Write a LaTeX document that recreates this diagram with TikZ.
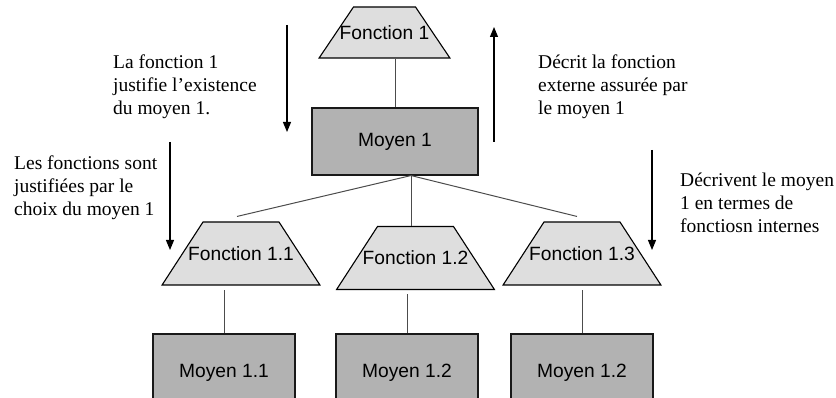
\documentclass[tikz,border=0pt]{standalone}
\usepackage{fontspec}
\setmainfont{Liberation Serif}
\setsansfont{Liberation Sans}
\usetikzlibrary{shapes.geometric,arrows.meta}
\definecolor{fonctgris}{gray}{0.87}
\definecolor{moyengris}{gray}{0.70}
\begin{document}
\begin{tikzpicture}[x=1pt,y=-1pt,font=\sffamily\fontsize{19.2}{22}\selectfont]
\useasboundingbox (0,0) rectangle (836,398);
\clip (0,0) rectangle (836,398);

\tikzstyle{fonction}=[shape=trapezium,trapezium angle=57,fill=fonctgris,draw=black,line width=1.1pt,inner xsep=38pt,inner ysep=31.5pt]
\tikzstyle{moyen}=[rectangle,draw=black!90,line width=1.1pt,fill=moyengris,minimum width=142pt,minimum height=78pt]
\tikzstyle{link}=[draw=black!70,line width=1pt]
\tikzstyle{fleche}=[-{Triangle[length=10pt,width=8pt]},line width=1.1pt]
\tikzstyle{note}=[font=\rmfamily\fontsize{19.5}{22.8}\selectfont,align=left,anchor=north west,inner sep=0pt]

    \node(f)[fonction,trapezium angle=56,inner xsep=31pt,inner ysep=25.5pt,label=center:Fonction 1] at (384.5,32.5) {};
    \node(m)[moyen,minimum width=166pt,minimum height=67pt] at (395,141.5) {Moyen 1};
    \draw[link] (m.north) -- (m.north |- f.bottom side);

    % sous-fonctions et leurs moyens
    \foreach \i/\fx/\fy/\mx/\mn in {1/241/253.5/224/1.1, 2/415.5/258/407/1.2, 3/582/253.5/582/1.2}{
      \node(f1\i)[fonction,label=center:Fonction 1.\i] at (\fx,\fy) {};
      \node(m1\i)[moyen] at (\mx,373) {Moyen \mn};
      \draw[link,shorten >=4pt] (m1\i.north) -- (m1\i.north |- f1\i.bottom side);
    }

    \coordinate(fork) at ([xshift=16pt]m.south);
    \draw[link] (fork) -- ([shift={(-4pt,5pt)}]f11.top side);
    \draw[link] (fork) -- (fork |- f12.top side);
    \draw[link] (fork) -- ([shift={(-5pt,5pt)}]f13.top side);

    % fleches de lecture
    \coordinate(d1) at (287,25);  \coordinate(d2) at (287,132);
    \coordinate(u1) at (494,142); \coordinate(u2) at (494,27);
    \coordinate(g1) at (170,142); \coordinate(g2) at (170,250);
    \coordinate(r1) at (652,150); \coordinate(r2) at (652,250);
    \draw[fleche] (d1) -- (d2);
    \draw[fleche] (u1) -- (u2);
    \draw[fleche] (g1) -- (g2);
    \draw[fleche] (r1) -- (r2);

    \node(t1)[note] at (113,55) {La fonction 1\\justifie l’existence\\du moyen 1.};
    \node(t2)[note] at (14,156) {Les fonctions sont\\justifiées par le\\choix du moyen 1};
    \node(t3)[note] at (538,55) {Décrit la fonction\\externe assurée par\\le moyen 1};
    \node(t4)[note] at (680,173) {Décrivent le moyen\\1 en termes de\\fonctiosn internes};

\end{tikzpicture}
\end{document}
